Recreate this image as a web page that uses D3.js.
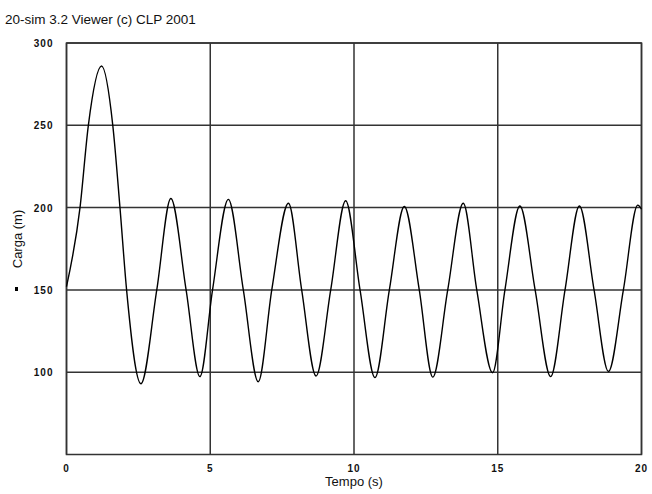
<!DOCTYPE html>
<html>
<head>
<meta charset="utf-8">
<script src="https://cdn.jsdelivr.net/npm/d3@7"></script>
<style>
  body { margin: 0; background: #fff; }
  svg text { font-family: Arial, "Liberation Sans", sans-serif; fill: #111; }
</style>
</head>
<body>
<div id="Area"></div>
<script>
// values
var title = "20-sim 3.2 Viewer (c) CLP 2001";
var xTicks = [0, 5, 10, 15, 20];
var yTicks = [100, 150, 200, 250, 300];

// tempo (s) and carga (m) at peaks, troughs and 150 crossings
var tempo = [0, 0.47, 0.76, 1.22, 1.61, 1.86, 2.09, 2.59, 3.14, 3.63, 4.16, 4.64,
  5.08, 5.63, 6.15, 6.67, 7.14, 7.72, 8.18, 8.68, 9.19, 9.71, 10.21, 10.73,
  11.23, 11.75, 12.27, 12.74, 13.26, 13.80, 14.27, 14.82, 15.25, 15.77, 16.30, 16.84, 17.34,
  17.84, 18.35, 18.85, 19.37, 19.87, 20];
var carga = [152, 200, 250, 286, 250, 200, 150, 93, 150, 205.5, 150, 97.3,
  150, 205, 150, 94.2, 150, 202.6, 150, 97.7, 150, 204.2, 150, 96.7,
  150, 200.7, 150, 97, 150, 202.6, 150, 99.7, 150, 201, 150, 97.3, 150,
  201, 150, 100.4, 150, 201.5, 199];

var data = tempo.map(function(t, i) { return {x: t, y: carga[i]}; });

var margin = {top: 43, right: 10.5, bottom: 39.5, left: 66.5},
    width = 652 - margin.left - margin.right,
    height = 494 - margin.top - margin.bottom;

var svg = d3.select("#Area")
  .append("svg")
    .attr("width", 652)
    .attr("height", 494);

var g = svg.append("g")
    .attr("transform", "translate(" + margin.left + "," + margin.top + ")");

var x = d3.scaleLinear().domain([0, 20]).range([0, width]);
var y = d3.scaleLinear().domain([50, 300]).range([height, 0]);

// title
svg.append("text")
  .attr("x", 5).attr("y", 24)
  .style("font-size", "13.5px")
  .text(title);

// grid lines
g.selectAll(".vgrid")
  .data(xTicks)
  .enter()
  .append("line")
  .attr("x1", function(d){ return x(d) })
  .attr("x2", function(d){ return x(d) })
  .attr("y1", 0).attr("y2", height)
  .attr("stroke", "#333").attr("stroke-width", 1.5);

g.selectAll(".hgrid")
  .data(yTicks)
  .enter()
  .append("line")
  .attr("x1", 0).attr("x2", width)
  .attr("y1", function(d){ return y(d) })
  .attr("y2", function(d){ return y(d) })
  .attr("stroke", "#333").attr("stroke-width", 1.5);

// frame
g.append("rect")
  .attr("width", width).attr("height", height)
  .attr("fill", "none")
  .attr("stroke", "#333").attr("stroke-width", 1.5);

// tick labels
g.selectAll(".xlab")
  .data(xTicks)
  .enter()
  .append("text")
  .attr("x", function(d){ return x(d) })
  .attr("y", height + 17)
  .attr("text-anchor", "middle")
  .style("font-size", "10px").style("font-weight", "bold").style("letter-spacing", "1px")
  .text(function(d){ return d });

g.selectAll(".ylab")
  .data(yTicks)
  .enter()
  .append("text")
  .attr("x", -13)
  .attr("y", function(d){ return y(d) + 4 })
  .attr("text-anchor", "end")
  .style("font-size", "10px").style("font-weight", "bold").style("letter-spacing", "1px")
  .text(function(d){ return d });

// axis titles
svg.append("text")
  .attr("x", margin.left + width / 2)
  .attr("y", 486)
  .attr("text-anchor", "middle")
  .style("font-size", "13px")
  .text("Tempo (s)");

svg.append("text")
  .attr("transform", "translate(22,239) rotate(-90)")
  .attr("text-anchor", "middle")
  .style("font-size", "13px")
  .text("Carga (m)");

// legend marker
svg.append("rect")
  .attr("x", 15).attr("y", 287)
  .attr("width", 3).attr("height", 4)
  .attr("fill", "#000");

// the curve
g.append("path")
  .datum(data)
  .attr("d", d3.line()
    .x(function(d){ return x(d.x) })
    .y(function(d){ return y(d.y) })
    .curve(d3.curveMonotoneX))
  .attr("stroke", "black")
  .attr("stroke-width", 1.4)
  .attr("fill", "none");
</script>
</body>
</html>
